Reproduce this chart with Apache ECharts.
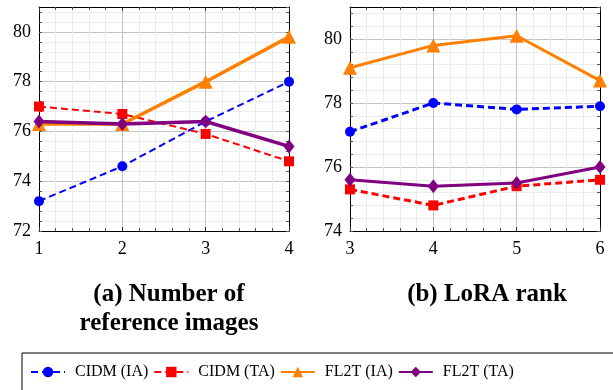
<!DOCTYPE html>
<html><head><meta charset="utf-8">
<script src="https://cdn.jsdelivr.net/npm/echarts@6/dist/echarts.min.js"></script>
<style>html,body{margin:0;padding:0;background:#fff}#c{width:613px;height:390px}</style>
</head><body><div id="c"></div>
<script>
// ---- data ----
const seriesNames = ['CIDM (IA)', 'CIDM (TA)', 'FL2T (IA)', 'FL2T (TA)'];
const xRefImages = [1, 2, 3, 4];
const xLoraRank = [3, 4, 5, 6];
// (a) Number of reference images
const aCidmIA = [73.2, 74.6, 76.4, 78.0];
const aCidmTA = [77.0, 76.7, 75.9, 74.8];
const aFl2tIA = [76.3, 76.3, 78.0, 79.8];
const aFl2tTA = [76.4, 76.3, 76.4, 75.4];
// (b) LoRA rank
const bCidmIA = [77.1, 78.0, 77.8, 77.9];
const bCidmTA = [75.3, 74.8, 75.4, 75.6];
const bFl2tIA = [79.1, 79.8, 80.1, 78.7];
const bFl2tTA = [75.6, 75.4, 75.5, 76.0];
const titleA = '(a) Number of\nreference images';
const titleB = '(b) LoRA rank';

// ---- styling ----
const FONT = 'Liberation Serif';
const MAJOR = '#c4c4c4', MINOR = '#ececec';
const styles = [
  {color: '#0000ff', symbol: 'circle', size: 10, type: [7, 4], w: [2, 3]},
  {color: '#ff0000', symbol: 'rect', size: 10, type: [7, 4], w: [2, 3]},
  {color: '#ff8000', symbol: 'triangle', size: 14, type: 'solid', w: [3.5, 3]},
  {color: '#800080', symbol: 'diamond', size: [11, 14], type: 'solid', w: [3.5, 3]}
];
const zip = (xs, ys) => xs.map((x, i) => [x, ys[i]]);

function xAxisDef(gi, min, max, pos) {
  const main = pos === 'bottom';
  return {
    type: 'value', gridIndex: gi, position: pos, min: min, max: max, interval: 1,
    axisLine: {show: true, onZero: false, lineStyle: {color: '#000', width: 1}},
    axisTick: {show: true, inside: true, length: 4, lineStyle: {color: '#333'}},
    minorTick: {show: true, splitNumber: 5, length: 3, lineStyle: {color: '#555'}},
    splitLine: {show: main, lineStyle: {color: MAJOR, width: 1}},
    minorSplitLine: {show: main, lineStyle: {color: MINOR, width: 1}},
    axisLabel: {show: main, fontFamily: FONT, fontSize: 18, color: '#000', margin: 9}
  };
}
function yAxisDef(gi, min, max, pos) {
  const main = pos === 'left';
  return {
    type: 'value', gridIndex: gi, position: pos, min: min, max: max, interval: 0.4,
    axisLine: {show: true, onZero: false, lineStyle: {color: '#000', width: 1}},
    axisTick: {show: true, inside: true, length: 3, lineStyle: {color: '#555'}},
    splitLine: {show: main, lineStyle: {color: [MAJOR, MINOR, MINOR, MINOR, MINOR], width: 1}},
    axisLabel: {
      show: main, fontFamily: FONT, fontSize: 18, color: '#000', margin: 8,
      showMaxLabel: false,
      formatter: v => {
        const r = Math.round(v);
        return (Math.abs(v - r) < 1e-6 && r % 2 === 0) ? String(r) : '';
      }
    }
  };
}

const sets = [
  {x: xRefImages, ys: [aCidmIA, aCidmTA, aFl2tIA, aFl2tTA]},
  {x: xLoraRank, ys: [bCidmIA, bCidmTA, bFl2tIA, bFl2tTA]}
];
const series = [];
sets.forEach((s, gi) => {
  s.ys.forEach((ys, k) => {
    const st = styles[k];
    series.push({
      name: seriesNames[k], type: 'line',
      xAxisIndex: gi * 2, yAxisIndex: gi * 2,
      data: zip(s.x, ys),
      symbol: st.symbol, symbolSize: st.size, showSymbol: true,
      lineStyle: {color: st.color, width: st.w[gi], type: st.type},
      itemStyle: {color: st.color},
      animation: false, z: 3 + k
    });
  });
});

const chart = echarts.init(document.getElementById('c'), null, {renderer: 'canvas'});
chart.setOption({
  backgroundColor: '#fff',
  animation: false,
  grid: [
    {left: 39, top: 7, width: 250, height: 224, show: false},
    {left: 350, top: 7, width: 250, height: 224, show: false}
  ],
  xAxis: [
    xAxisDef(0, 1, 4, 'bottom'), xAxisDef(0, 1, 4, 'top'),
    xAxisDef(1, 3, 6, 'bottom'), xAxisDef(1, 3, 6, 'top')
  ],
  yAxis: [
    yAxisDef(0, 72, 81, 'left'), yAxisDef(0, 72, 81, 'right'),
    yAxisDef(1, 74, 81, 'left'), yAxisDef(1, 74, 81, 'right')
  ],
  title: [
    {text: titleA, left: 164, top: 275, textAlign: 'center',
     textStyle: {fontFamily: FONT, fontWeight: 'bold', fontSize: 25, lineHeight: 29, color: '#000'}},
    {text: titleB, left: 482, top: 275, textAlign: 'center',
     textStyle: {fontFamily: FONT, fontWeight: 'bold', fontSize: 25, lineHeight: 29, color: '#000'}}
  ],
  legend: {
    data: seriesNames, left: 25, top: 359, itemWidth: 34, itemHeight: 13, itemGap: 5,
    textStyle: {fontFamily: FONT, fontSize: 16, color: '#000', padding: [0, 0, 0, 5]}
  },
  graphic: [{
    type: 'rect', shape: {x: 22, y: 353, width: 620, height: 60},
    style: {fill: null, stroke: '#000', lineWidth: 1}, silent: true, z: 0
  }],
  series: series
});
</script></body></html>
